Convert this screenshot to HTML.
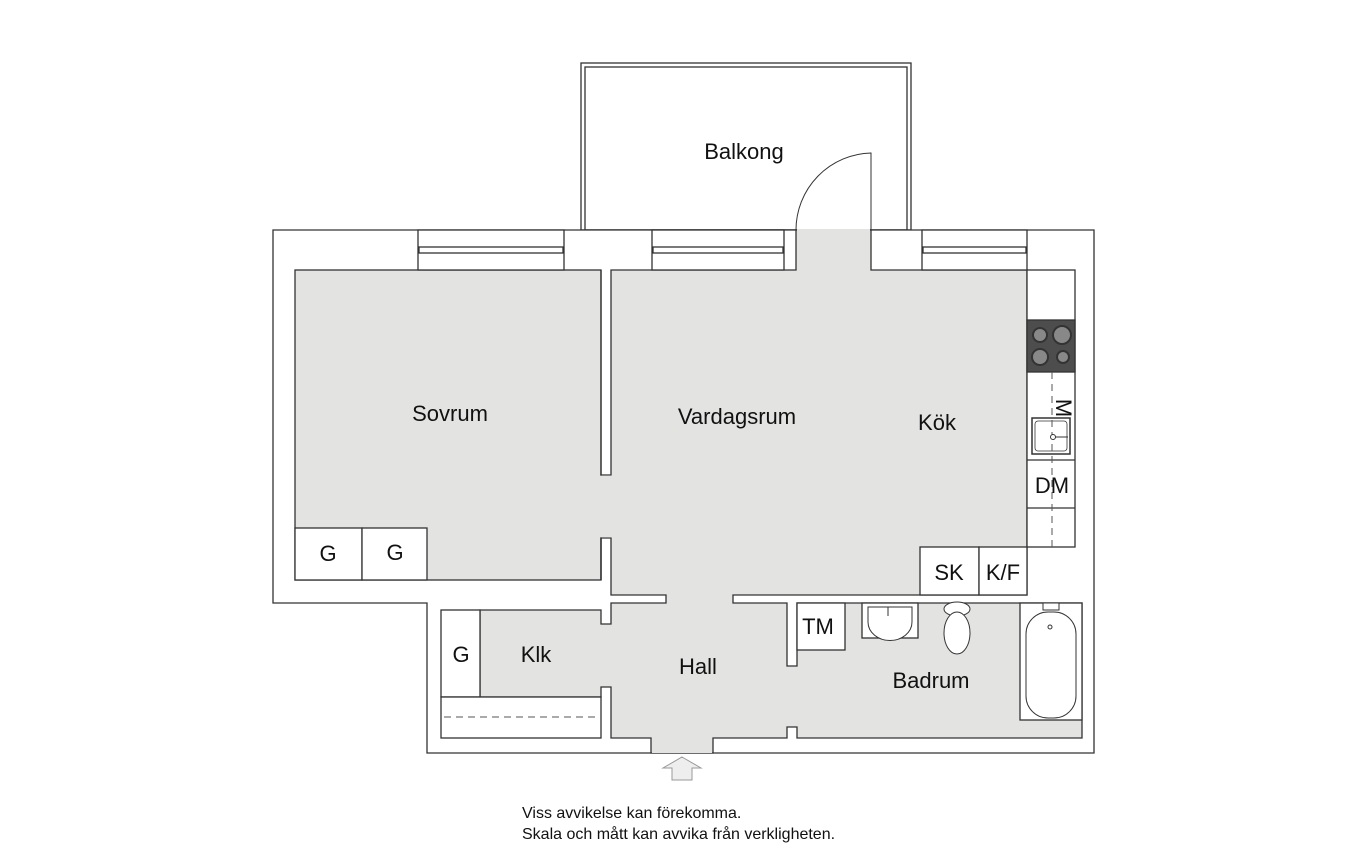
<!DOCTYPE html>
<html><head><meta charset="utf-8"><style>
html,body{margin:0;padding:0;background:#fff;width:1366px;height:862px;overflow:hidden}
svg{display:block}
text{font-family:"Liberation Sans",sans-serif;fill:#111}
</style></head><body>
<svg width="1366" height="862" viewBox="0 0 1366 862" xmlns="http://www.w3.org/2000/svg">
<g stroke="#333" stroke-width="1.3" fill="none">
<rect x="581" y="63" width="330" height="167" fill="#fff"/>
<rect x="585" y="67" width="322" height="163"/>
<polygon points="273,230 1094,230 1094,753 427,753 427,603 273,603" fill="#fff"/>
<rect x="295" y="270" width="306" height="310" fill="#e3e3e2"/>
<polygon points="611,270 796,270 796,230 871,230 871,270 1027,270 1027,595 733,595 733,603 787,603 787,666 797,666 797,603 1082,603 1082,738 797,738 797,727 787,727 787,738 713,738 713,753 651,753 651,738 611,738 611,687 601,687 601,697 480,697 480,610 601,610 601,624 611,624 611,603 666,603 666,595 611,595 611,538 601,538 601,580 601,475 611,475" fill="#e3e3e2"/>
</g>
<rect x="600" y="475.7" width="12" height="61.6" fill="#e3e3e2"/>
<rect x="652" y="736" width="60" height="17" fill="#e3e3e2"/>
<line x1="601" y1="270" x2="601" y2="475" stroke="#333" stroke-width="1.3"/>
<line x1="601" y1="538" x2="601" y2="580" stroke="#333" stroke-width="1.3"/>
<line x1="797" y1="230" x2="870" y2="230" stroke="#e3e3e2" stroke-width="2"/>
<g stroke="#333" stroke-width="1.3" fill="#fff">
<rect x="418" y="230" width="146" height="40"/>
<rect x="419" y="247" width="144" height="6" fill="#fff"/>
<rect x="652" y="230" width="132" height="40"/>
<rect x="653" y="247" width="130" height="6"/>
<rect x="922" y="230" width="105" height="40"/>
<rect x="923" y="247" width="103" height="6"/>
<path d="M871,230 L871,153 A77,77 0 0 0 796,230" fill="none" stroke-width="1"/>
<rect x="295" y="528" width="67" height="52"/>
<rect x="362" y="528" width="65" height="52"/>
<rect x="1027" y="270" width="48" height="277"/>
<line x1="1027" y1="460" x2="1075" y2="460"/>
<line x1="1027" y1="508" x2="1075" y2="508"/>
<rect x="1027" y="320" width="48" height="52" fill="#4d4d4d"/>
<rect x="1032" y="418" width="38" height="36" stroke-width="1.5"/>
<rect x="1035" y="421" width="32" height="30" rx="3" stroke-width="0.8"/>
<rect x="920" y="547" width="59" height="48"/>
<rect x="979" y="547" width="48" height="48"/>
<rect x="441" y="610" width="39" height="87"/>
<rect x="441" y="697" width="160" height="41"/>
<rect x="797" y="603" width="48" height="47"/>
<rect x="862" y="603" width="56" height="35"/>
<rect x="1020" y="603" width="62" height="117"/>
</g>
<line x1="1052" y1="372" x2="1052" y2="547" stroke="#555" stroke-width="1" stroke-dasharray="7,5"/>
<line x1="444" y1="717" x2="598" y2="717" stroke="#555" stroke-width="1" stroke-dasharray="7,5"/>
<g fill="#888" stroke="#333" stroke-width="2">
<circle cx="1040" cy="335" r="7"/><circle cx="1062" cy="335" r="9"/>
<circle cx="1040" cy="357" r="8"/><circle cx="1063" cy="357" r="6"/>
</g>
<circle cx="1053" cy="437" r="2.5" fill="#fff" stroke="#333"/>
<line x1="1055" y1="437" x2="1068" y2="437" stroke="#333"/>
<path d="M868,607 L868,622 A19,16 0 0 0 912,622 L912,607 Z" fill="#fff" stroke="#333"/>
<line x1="888" y1="607" x2="888" y2="616" stroke="#333"/>
<ellipse cx="957" cy="609" rx="13" ry="7" fill="#fff" stroke="#333"/>
<ellipse cx="957" cy="633" rx="13" ry="21" fill="#fff" stroke="#333"/>
<rect x="1026" y="612" width="50" height="106" rx="22" fill="#fff" stroke="#333"/>
<rect x="1043" y="603" width="16" height="7" fill="#fff" stroke="#333"/>
<circle cx="1050" cy="627" r="2" fill="none" stroke="#333"/>
<polygon points="682,757 701,768 692,768 692,780 672,780 672,768 663,768" fill="#eee" stroke="#999"/>
<g font-size="22">
<text x="744" y="159" text-anchor="middle">Balkong</text>
<text x="450" y="421" text-anchor="middle">Sovrum</text>
<text x="737" y="424" text-anchor="middle">Vardagsrum</text>
<text x="937" y="430" text-anchor="middle">Kök</text>
<text x="698" y="674" text-anchor="middle">Hall</text>
<text x="536" y="662" text-anchor="middle">Klk</text>
<text x="931" y="688" text-anchor="middle">Badrum</text>
<text x="328" y="561" text-anchor="middle">G</text>
<text x="395" y="560" text-anchor="middle">G</text>
<text x="461" y="662" text-anchor="middle">G</text>
<text x="949" y="580" text-anchor="middle">SK</text>
<text x="1003" y="580" text-anchor="middle">K/F</text>
<text x="1052" y="493" text-anchor="middle">DM</text>
<text x="818" y="634" text-anchor="middle">TM</text>
<text transform="translate(1056,408) rotate(90)" text-anchor="middle">M</text>
</g>
<g font-size="16">
<text x="522" y="818">Viss avvikelse kan förekomma.</text>
<text x="522" y="839">Skala och mått kan avvika från verkligheten.</text>
</g>
</svg>
</body></html>
